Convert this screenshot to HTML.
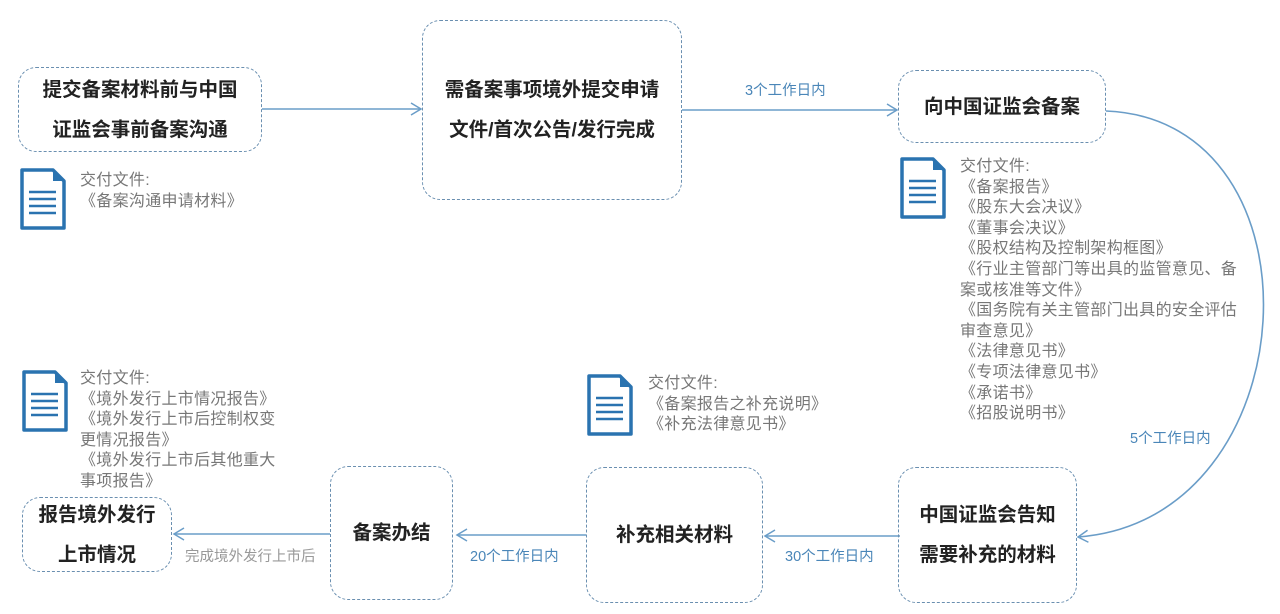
<!DOCTYPE html>
<html><head><meta charset="utf-8"><style>
body{margin:0;width:1280px;height:614px;background:#fff;position:relative;overflow:hidden;font-family:"Liberation Sans","Noto Sans CJK SC",sans-serif}
.b{position:absolute;border:1.5px dashed #6a8fb0;border-radius:18px;box-sizing:border-box;display:flex;align-items:center;justify-content:center;text-align:center;font-weight:bold;font-size:19.5px;color:#222;line-height:40px}
.t{position:absolute;color:#777;font-size:16px;letter-spacing:0.3px;line-height:20.6px;white-space:nowrap}
.l{position:absolute;color:#4a86b8;font-size:14.5px;white-space:nowrap}
svg{position:absolute;left:0;top:0}
</style></head><body>
<svg width="1280" height="614">
<defs>
<marker id="a" markerWidth="14" markerHeight="14" refX="11" refY="7" orient="auto" markerUnits="userSpaceOnUse"><path d="M1,1 L11,7 L1,13" fill="none" stroke="#6a9dc8" stroke-width="1.5"/></marker>
<g id="doc"><path d="M2,2 H33 L44,13 V60 H2 Z" fill="#fff" stroke="#2a73b0" stroke-width="3.5" stroke-linejoin="round"/><path d="M33,2 V13 H44 Z" fill="#2a73b0"/><path d="M9,24H36M9,31H36M9,38H36M9,45H36" stroke="#2a73b0" stroke-width="2.5"/></g>
</defs>
<g stroke="#6a9dc8" stroke-width="1.6" fill="none">
<line x1="262" y1="109" x2="421" y2="109" marker-end="url(#a)"/>
<line x1="682" y1="110" x2="897" y2="110" marker-end="url(#a)"/>
<path d="M1106,111 C1330,120 1310,520 1078,537" marker-end="url(#a)"/>
<line x1="900" y1="536" x2="765" y2="536" marker-end="url(#a)"/>
<line x1="586" y1="535" x2="457" y2="535" marker-end="url(#a)"/>
<line x1="330" y1="534" x2="174" y2="534" marker-end="url(#a)"/>
</g>
<use href="#doc" x="20" y="168"/>
<use href="#doc" x="900" y="157"/>
<use href="#doc" x="22" y="370"/>
<use href="#doc" x="587" y="374"/>
</svg>
<div class="b" style="left:18px;top:67px;width:244px;height:85px">提交备案材料前与中国<br>证监会事前备案沟通</div>
<div class="b" style="left:422px;top:20px;width:260px;height:180px">需备案事项境外提交申请<br>文件/首次公告/发行完成</div>
<div class="b" style="left:898px;top:70px;width:208px;height:73px">向中国证监会备案</div>
<div class="b" style="left:898px;top:467px;width:179px;height:136px">中国证监会告知<br>需要补充的材料</div>
<div class="b" style="left:586px;top:467px;width:177px;height:136px">补充相关材料</div>
<div class="b" style="left:330px;top:466px;width:123px;height:134px">备案办结</div>
<div class="b" style="left:22px;top:497px;width:150px;height:75px">报告境外发行<br>上市情况</div>
<div class="t" style="left:80px;top:171px">交付文件:<br>《备案沟通申请材料》</div>
<div class="t" style="left:960px;top:157px">交付文件:<br>《备案报告》<br>《股东大会决议》<br>《董事会决议》<br>《股权结构及控制架构框图》<br>《行业主管部门等出具的监管意见、备<br>案或核准等文件》<br>《国务院有关主管部门出具的安全评估<br>审查意见》<br>《法律意见书》<br>《专项法律意见书》<br>《承诺书》<br>《招股说明书》</div>
<div class="t" style="left:80px;top:369px">交付文件:<br>《境外发行上市情况报告》<br>《境外发行上市后控制权变<br>更情况报告》<br>《境外发行上市后其他重大<br>事项报告》</div>
<div class="t" style="left:648px;top:374px">交付文件:<br>《备案报告之补充说明》<br>《补充法律意见书》</div>
<div class="l" style="left:745px;top:79px">3个工作日内</div>
<div class="l" style="left:1130px;top:427px">5个工作日内</div>
<div class="l" style="left:785px;top:545px">30个工作日内</div>
<div class="l" style="left:470px;top:545px">20个工作日内</div>
<div class="l" style="left:185px;top:545px;color:#999">完成境外发行上市后</div>
</body></html>
